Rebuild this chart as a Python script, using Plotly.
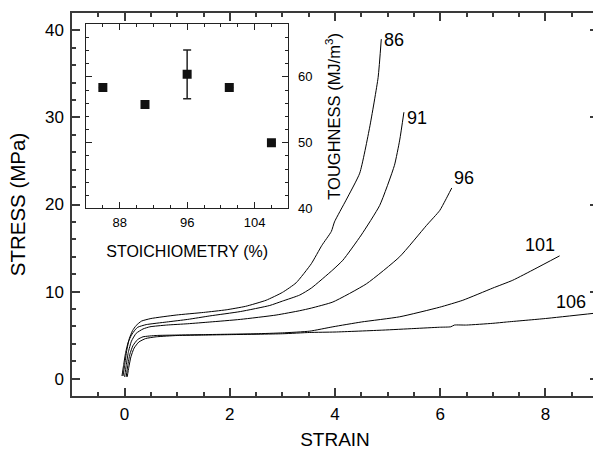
import plotly.graph_objects as go

# ---- data ----
s86_strain = [-0.03, 0.0, 0.04, 0.09, 0.15, 0.22, 0.32, 0.5, 0.98, 1.5, 1.93, 2.3, 2.69, 3.0, 3.26, 3.55, 3.75, 3.93, 3.99, 4.21, 4.47, 4.66, 4.82, 4.88]
s86_stress = [0.3, 1.5, 3.2, 4.6, 5.5, 6.1, 6.6, 6.9, 7.3, 7.6, 7.9, 8.3, 9.0, 9.9, 11.0, 13.2, 15.3, 16.9, 18.0, 20.5, 23.6, 28.9, 34.6, 39.0]

s91_strain = [-0.05, -0.02, 0.02, 0.07, 0.13, 0.2, 0.25, 0.41, 0.8, 1.2, 1.62, 2.2, 2.76, 3.0, 3.33, 3.55, 3.96, 4.15, 4.5, 4.85, 5.13, 5.23, 5.31]
s91_stress = [0.3, 1.5, 3.0, 4.2, 5.0, 5.6, 5.9, 6.2, 6.5, 6.8, 7.2, 7.7, 8.4, 8.9, 9.6, 10.4, 12.5, 13.6, 16.5, 19.9, 24.5, 27.4, 30.6]

s96_strain = [0.0, 0.03, 0.07, 0.13, 0.22, 0.35, 0.48, 0.8, 1.2, 1.62, 2.2, 2.88, 3.33, 3.55, 3.96, 4.6, 5.23, 5.74, 5.99, 6.1, 6.22]
s96_stress = [0.2, 1.5, 3.0, 4.3, 5.2, 5.7, 5.95, 6.15, 6.3, 6.5, 6.8, 7.3, 7.8, 8.1, 8.8, 10.9, 14.0, 17.6, 19.3, 20.5, 21.9]

s101_strain = [0.03, 0.06, 0.1, 0.16, 0.25, 0.35, 0.6, 0.98, 1.5, 2.0, 2.5, 3.0, 3.52, 3.96, 4.5, 5.23, 5.99, 6.43, 7.0, 7.38, 7.8, 8.27]
s101_stress = [0.2, 1.5, 2.8, 3.8, 4.5, 4.8, 4.95, 5.0, 5.05, 5.1, 5.15, 5.25, 5.45, 5.95, 6.5, 7.1, 8.2, 9.0, 10.4, 11.3, 12.6, 14.1]

s106_strain = [0.05, 0.08, 0.12, 0.18, 0.27, 0.4, 0.6, 1.0, 1.5, 2.0, 3.0, 3.52, 4.0, 4.91, 5.5, 5.99, 6.2, 6.27, 6.5, 7.0, 7.26, 8.0, 9.0]
s106_stress = [0.2, 1.3, 2.5, 3.5, 4.2, 4.6, 4.8, 4.95, 5.0, 5.05, 5.15, 5.3, 5.35, 5.57, 5.75, 5.9, 5.95, 6.15, 6.15, 6.35, 6.5, 6.9, 7.55]

curve_labels = ["86", "91", "96", "101", "106"]
label_x = [5.13, 5.56, 6.46, 7.89, 8.49]
label_y = [38.9, 29.9, 23.0, 15.3, 8.8]

stoich = [86, 91, 96, 101, 106]
toughness = [58.4, 55.8, 60.4, 58.4, 50.0]
tough_err = [0, 0, 3.7, 0, 0]

FONT = "Liberation Sans, Arial, sans-serif"
AX = "#3a3a3a"

fig = go.Figure()
curves = [(s86_strain, s86_stress), (s91_strain, s91_stress), (s96_strain, s96_stress),
          (s101_strain, s101_stress), (s106_strain, s106_stress)]
for (xs, ys), name in zip(curves, curve_labels):
    fig.add_trace(go.Scatter(x=xs, y=ys, mode="lines", name=name,
                             line=dict(color="black", width=1, shape="spline", smoothing=0.5),
                             showlegend=False, xaxis="x", yaxis="y"))

fig.add_trace(go.Scatter(x=stoich, y=toughness, mode="markers",
                         marker=dict(symbol="square", size=9, color="#111"),
                         error_y=dict(type="data", array=tough_err, visible=True,
                                      color="#222", thickness=1.5, width=4),
                         showlegend=False, xaxis="x2", yaxis="y2"))

for t, x, y in zip(curve_labels, label_x, label_y):
    fig.add_annotation(x=x, y=y, text=t, showarrow=False, xref="x", yref="y",
                       font=dict(family=FONT, size=18, color="black"))

# the main frame runs slightly past the right edge of the window, as in the reference
fig.update_layout(
    width=598, height=450,
    margin=dict(l=72, r=0, t=13, b=54),
    paper_bgcolor="white", plot_bgcolor="white",
    font=dict(family=FONT, color="black"),
    xaxis=dict(range=[-1, 9], dtick=2, tick0=0, ticks="inside", ticklen=8, tickwidth=1.5,
               tickcolor=AX, showline=True, linecolor=AX, linewidth=1.5, mirror="allticks",
               showgrid=False, zeroline=False, automargin=False,
               minor=dict(dtick=0.5, ticks="inside", ticklen=4, tickwidth=1.5, tickcolor=AX),
               tickfont=dict(size=17, family=FONT), ticklabelstandoff=2,
               title=dict(text="STRAIN", font=dict(size=19, family=FONT), standoff=12)),
    yaxis=dict(range=[-2, 42], dtick=10, tick0=0, ticks="inside", ticklen=8, tickwidth=1.5,
               tickcolor=AX, showline=True, linecolor=AX, linewidth=1.5, mirror="allticks",
               showgrid=False, zeroline=False, automargin=False,
               minor=dict(dtick=2, ticks="inside", ticklen=4, tickwidth=1.5, tickcolor=AX),
               tickfont=dict(size=17, family=FONT), ticklabelstandoff=3,
               title=dict(text="STRESS (MPa)", font=dict(size=20.5, family=FONT), standoff=14)),
    xaxis2=dict(domain=[0.0266, 0.4112], anchor="y2", range=[84, 108], dtick=8, tick0=88,
                ticks="inside", ticklen=6, tickwidth=1.2, tickcolor="#222",
                showline=True, linecolor="#222", linewidth=1.2, mirror="allticks",
                showgrid=False, zeroline=False, automargin=False,
                minor=dict(dtick=2, ticks="inside", ticklen=3, tickwidth=1.2, tickcolor="#222"),
                tickfont=dict(size=13, family=FONT), ticklabelstandoff=2,
                title=dict(text="STOICHIOMETRY (%)", font=dict(size=16, family=FONT), standoff=16)),
    yaxis2=dict(domain=[0.4896, 0.9705], anchor="x2", side="right", range=[40, 68], dtick=10,
                ticks="inside", ticklen=6, tickwidth=1.2, tickcolor="#222",
                showline=True, linecolor="#222", linewidth=1.2, mirror="allticks",
                showgrid=False, zeroline=False, automargin=False,
                minor=dict(dtick=2, ticks="inside", ticklen=3, tickwidth=1.2, tickcolor="#222"),
                tickfont=dict(size=13, family=FONT), ticklabelstandoff=6,
                title=dict(text="TOUGHNESS (MJ/m<sup>3</sup>)", font=dict(size=16.5, family=FONT), standoff=16)),
)

fig.write_html(
    "out.html",
    config={"displayModeBar": False},
    post_script="document.body.style.margin='0';document.body.style.overflow='hidden';"
                "document.documentElement.style.overflow='hidden';",
)
